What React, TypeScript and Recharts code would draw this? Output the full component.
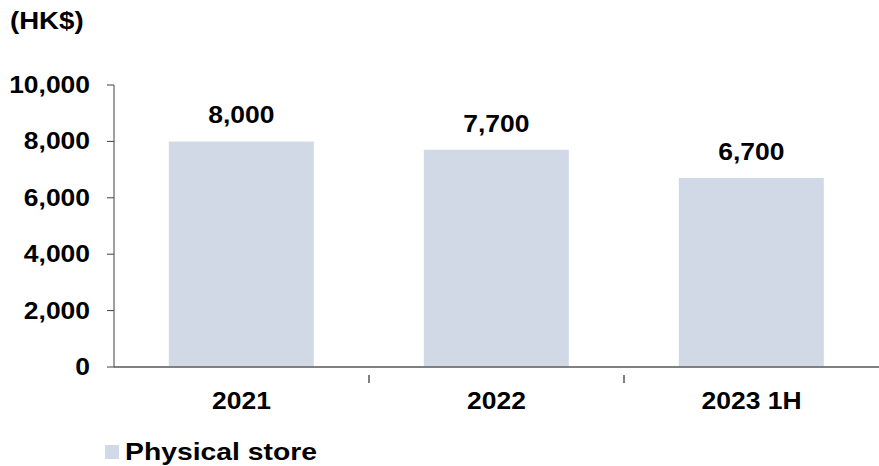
import React from "react";
import { Bar, BarChart, LabelList, XAxis, YAxis } from "recharts";

const periods = ["2021", "2022", "2023 1H"];
const physicalStore = [8000, 7700, 6700];
const yTicks = [0, 2000, 4000, 6000, 8000, 10000];

const FONT = '"Liberation Sans", Arial, sans-serif';
const BAR_COLOR = "#D1D9E7";
const STRETCH = 1.15;
const fmt = (v: number) => v.toLocaleString("en-US");

const data = periods.map((p, i) => ({ period: p, store: physicalStore[i] }));

// the source image is a bit wider than tall, so glyphs get stretched sideways
function Wide({ x, y, anchor, children }: any) {
  return (
    <text
      transform={`translate(${x},${y}) scale(${STRETCH},1)`}
      textAnchor={anchor}
      fontFamily={FONT}
      fontWeight="bold"
      fontSize={23}
      fill="#000"
    >
      {children}
    </text>
  );
}

function CategoryTick(props: any) {
  const { x, y, payload, index } = props;
  const half = payload.offset || 0;
  return (
    <g>
      {index < periods.length - 1 && (
        <line x1={x + half} x2={x + half} y1={y} y2={y + 8} stroke="#000" strokeWidth={1} />
      )}
      <Wide x={x} y={y + 34} anchor="middle">
        {payload.value}
      </Wide>
    </g>
  );
}

function ValueTick(props: any) {
  const { x, y, payload } = props;
  return (
    <Wide x={x} y={y + 8} anchor="end">
      {fmt(payload.value)}
    </Wide>
  );
}

function BarValue(props: any) {
  const { x, y, width, value } = props;
  return (
    <Wide x={x + width / 2} y={y - 18} anchor="middle">
      {fmt(value)}
    </Wide>
  );
}

export default function App() {
  return (
    <div style={{ position: "absolute", left: 0, top: 0, width: 879, height: 466, background: "#fff" }}>
      <div
        style={{
          position: "absolute",
          left: 10,
          top: 8,
          fontFamily: FONT,
          fontWeight: "bold",
          fontSize: 23,
          color: "#000",
          transform: "scaleX(1.2)",
          transformOrigin: "left",
        }}
      >
        (HK$)
      </div>
      <BarChart
        width={879}
        height={466}
        data={data}
        margin={{ top: 85, right: 0, bottom: 39, left: 0 }}
        barCategoryGap="21.5%"
      >
        <XAxis
          dataKey="period"
          tickLine={false}
          axisLine={{ stroke: "#808080", strokeWidth: 2 }}
          tick={<CategoryTick />}
          height={60}
          interval={0}
        />
        <YAxis
          width={114}
          domain={[0, 10000]}
          ticks={yTicks}
          tickSize={7}
          tickMargin={17}
          interval={0}
          axisLine={{ stroke: "#404040", strokeWidth: 1 }}
          tickLine={{ stroke: "#404040" }}
          tick={<ValueTick />}
        />
        <Bar dataKey="store" fill={BAR_COLOR} isAnimationActive={false}>
          <LabelList dataKey="store" content={<BarValue />} />
        </Bar>
      </BarChart>
      <div
        style={{
          position: "absolute",
          left: 105,
          top: 438,
          display: "flex",
          alignItems: "center",
        }}
      >
        <span style={{ display: "inline-block", width: 14, height: 14, background: BAR_COLOR, marginRight: 6 }} />
        <span
          style={{
            fontFamily: FONT,
            fontWeight: "bold",
            fontSize: 24,
            color: "#000",
            display: "inline-block",
            transform: "scaleX(1.18)",
            transformOrigin: "left",
          }}
        >
          Physical store
        </span>
      </div>
    </div>
  );
}
